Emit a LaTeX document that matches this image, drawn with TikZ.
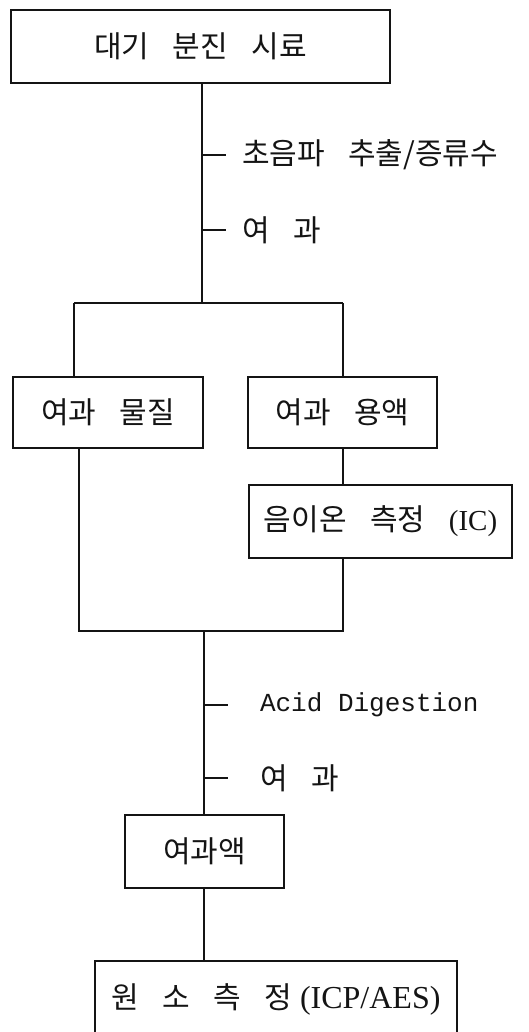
\documentclass[tikz,border=0pt]{standalone}
\usepackage{fontspec}
\setmainfont{Liberation Serif}
\newfontfamily\kor{Noto Sans CJK KR}[WordSpace=3.5]
\newfontfamily\tipo{Liberation Mono}
\usepackage{tikz}
\usetikzlibrary{positioning,calc}
\tikzset{dgpx/.style={x=0.5pt,y=-0.5pt,every node/.style={inner sep=0pt,outer sep=0pt,anchor=center,align=center}}}
\definecolor{dgline}{HTML}{141414}
\tikzset{
  bloco/.style={draw=dgline,line width=0.8pt,fill=white,text=dgline,font=\fontsize{15}{18}\selectfont},
  linha/.style={draw=dgline,line width=0.95pt},
  marca/.style={draw=dgline,line width=0.6pt},
  etapa/.style={font=\fontsize{15}{18}\selectfont,text=dgline,anchor=west},
}

\begin{document}
\begin{tikzpicture}[dgpx]
  \useasboundingbox (0,0) rectangle (529,1032);
  \clip (0,0) rectangle (529,1032);
  % caixas
  \node[bloco,minimum width=189.5pt,minimum height=36.5pt] (amostra) at (200.5,46.5) {\kor 대기 분진 시료};
  \node[bloco,minimum width=95pt,minimum height=35.5pt] (residuo) at (108,412.5) {\kor 여과 물질};
  \node[bloco,minimum width=94.5pt,minimum height=35.5pt] (filtrado) at (342.5,412.5) {\kor 여과 용액};
  \node[bloco,minimum width=131.5pt,minimum height=36.5pt] (ion) at (380.5,521.5) {{\kor 음이온 측정 }{\fontsize{14.5}{16}\selectfont(IC)}};
  \node[bloco,minimum width=79.5pt,minimum height=36.5pt] (extrato) at (204.5,851.5) {\kor 여과액};
  \node[bloco,minimum width=181pt,minimum height=38pt] (icp) at (276,999) {{\kor 원 소 측 정} {\fontsize{16}{18}\selectfont(ICP/AES)}};
  % etapas
  \node[etapa] (e1) at (242,155) {\kor 초음파 추출/증류수};
  \node[etapa] (e2) at (242,230) {\kor 여 과};
  \node[etapa] (e3) at (260,705) {\tipo\fontsize{13}{15}\selectfont Acid Digestion};
  \node[etapa] (e4) at (260,778) {\kor 여 과};
  % pontos de ligacao
  \coordinate (ja) at (202,303); \coordinate (jl) at (74,303); \coordinate (jr) at (343,303);
  \coordinate (jb) at (204,631); \coordinate (ml) at (79,631); \coordinate (mr) at (343,631);
  \coordinate (t1) at (202,155); \coordinate (t2) at (202,230);
  \coordinate (t3) at (204,705); \coordinate (t4) at (204,778);
  \draw[linha] (amostra.south -| ja) -- (ja);
  \draw[linha] (jl) -- (jr);
  \draw[linha] (jl) -- (jl |- residuo.north);
  \draw[linha] (jr) -- (jr |- filtrado.north);
  \draw[linha] (filtrado.south -| jr) -- (ion.north -| jr);
  \draw[linha] (ion.south -| mr) -- (mr) -- (ml) -- (ml |- residuo.south);
  \draw[linha] (jb) -- (jb |- extrato.north);
  \draw[linha] (extrato.south -| jb) -- (icp.north -| jb);
  \foreach \t/\e/\g in {t1/e1/8pt,t2/e2/8pt,t3/e3/16pt,t4/e4/16pt}
    \draw[marca] (\t) -- ([xshift=-\g]\e.west);
\end{tikzpicture}
\end{document}
